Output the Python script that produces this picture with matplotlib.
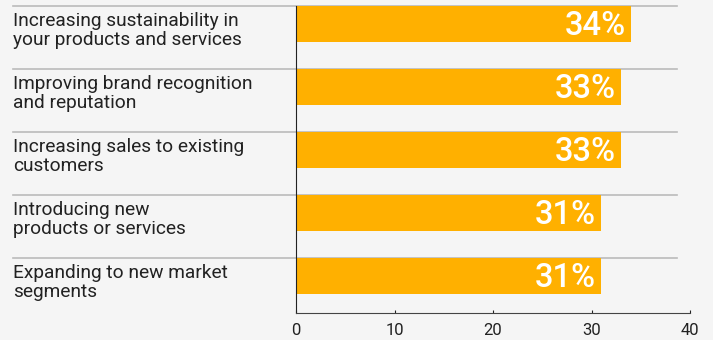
import matplotlib.pyplot as plt
from matplotlib.transforms import blended_transform_factory

categories = [
    'Increasing sustainability in\nyour products and services',
    'Improving brand recognition\nand reputation',
    'Increasing sales to existing\ncustomers',
    'Introducing new\nproducts or services',
    'Expanding to new market\nsegments',
]
values = [34, 33, 33, 31, 31]
xticks = [0, 10, 20, 30, 40]

BG = '#f5f5f5'
BAR = '#ffb000'
BAR_H = 0.57

plt.rcParams['font.family'] = ['Roboto', 'DejaVu Sans']

fig = plt.figure(figsize=(7.13, 3.4), dpi=100, facecolor=BG)
ax = fig.add_axes([296 / 713, 27 / 340, 394 / 713, 307 / 340], facecolor=BG)

pos = list(range(len(categories)))
ax.barh(pos, values, height=BAR_H, color=BAR, zorder=2)

top = -BAR_H / 2
ax.set_ylim(top + 307 / 63, top)
ax.set_xlim(0, 40)

trans = blended_transform_factory(fig.transFigure, ax.transData)
for i, (cat, v) in enumerate(zip(categories, values)):
    row_top = i - BAR_H / 2
    # separator line above each row
    ax.plot([13 / 713, 677 / 713], [row_top, row_top], color='#bbbbbb',
            linewidth=1.2, transform=trans, clip_on=False, zorder=1)
    ax.text(13 / 713, row_top + 0.1, cat, transform=trans, ha='left', va='top',
            fontsize=13.8, color='#222222', linespacing=1.08)
    ax.text(v - 0.55, i + 0.03, f'{v}%', ha='right', va='center',
            fontsize=23.5, color='white', fontweight='medium', zorder=3)

ax.set_xticks(xticks)
ax.set_yticks([])
ax.tick_params(axis='x', length=2, direction='in', labelsize=12, pad=7,
               colors='#222222')
for s in ['top', 'right']:
    ax.spines[s].set_visible(False)
ax.spines['left'].set_color('#222222')
ax.spines['bottom'].set_color('#444444')

fig.savefig('out.png', dpi=100, facecolor=BG)
